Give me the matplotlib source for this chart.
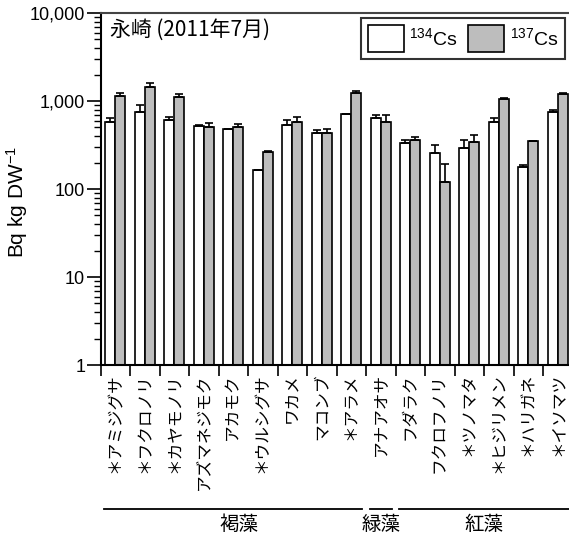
import matplotlib
matplotlib.use("Agg")
import matplotlib.pyplot as plt
import matplotlib.transforms as mtransforms
from matplotlib.ticker import FixedLocator, NullFormatter, LogLocator
import numpy as np

plt.rcParams['font.family'] = ['Liberation Sans', 'Noto Sans CJK JP', 'DejaVu Sans']
plt.rcParams['mathtext.fontset'] = 'custom'
plt.rcParams['mathtext.rm'] = 'Liberation Sans'
plt.rcParams['mathtext.it'] = 'Liberation Sans:italic'
plt.rcParams['mathtext.bf'] = 'Liberation Sans:bold'

# ---- data ----
species = ["＊アミジグサ", "＊フクロノリ", "＊カヤモノリ", "アズマネジモク", "アカモク",
           "＊ウルシグサ", "ワカメ", "マコンブ", "＊アラメ", "アナアオサ", "フダラク",
           "フクロフノリ", "＊ツノマタ", "＊ヒジリメン", "＊ハリガネ", "＊イソマツ"]
cs134 = [582, 743, 608, 520, 476, 163, 529, 430, 706, 635, 331, 259, 295, 577, 176, 750]
cs134_err = [53, 150, 55, 9, 9, 3, 79, 38, 11, 52, 29, 60, 62, 58, 13, 34]
cs137 = [1140, 1430, 1101, 511, 511, 263, 573, 430, 1243, 577, 360, 120, 345, 1054, 348, 1192]
cs137_err = [103, 185, 91, 46, 41, 5, 85, 55, 57, 110, 33, 72, 62, 18, 6, 30]
groups = ["褐藻", "緑藻", "紅藻"]
group_ranges = [(0, 8), (9, 9), (10, 15)]
yticks = [1, 10, 100, 1000, 10000]
ytick_labels = ["1", "10", "100", "1,000", "10,000"]
title = "永崎 (2011年7月)"
legend_labels = [r"$^{134}$Cs", r"$^{137}$Cs"]
ylabel = r"Bq kg DW$^{-1}$"

W, H = 569, 537
fig = plt.figure(figsize=(W / 100, H / 100), dpi=100)
left, right, top, bottom = 100.5, 572.5, 13, 365
ax = fig.add_axes([left / W, 1 - bottom / H, (right - left) / W, (bottom - top) / H])

x = np.arange(len(species))
bw = 0.34
grey = '#bdbdbd'
ax.bar(x - bw / 2, cs134, width=bw, color='white', edgecolor='black', linewidth=1.2,
       label=legend_labels[0], zorder=2)
ax.bar(x + bw / 2, cs137, width=bw, color=grey, edgecolor='black', linewidth=1.2,
       label=legend_labels[1], zorder=2)
ax.errorbar(x - bw / 2, cs134, yerr=[np.zeros(len(x)), cs134_err], fmt='none',
            ecolor='black', elinewidth=1.2, capsize=3, capthick=1.2, zorder=3)
ax.errorbar(x + bw / 2, cs137, yerr=[np.zeros(len(x)), cs137_err], fmt='none',
            ecolor='black', elinewidth=1.2, capsize=3, capthick=1.2, zorder=3)

ax.set_yscale('log')
ax.set_ylim(1, 10000)
ax.set_xlim(-0.5, len(species) - 0.5)
ax.yaxis.set_major_locator(FixedLocator(yticks))
ax.set_yticklabels(ytick_labels, fontsize=13)
ax.yaxis.set_minor_locator(LogLocator(base=10, subs=np.arange(2, 10)))
ax.yaxis.set_minor_formatter(NullFormatter())
ax.tick_params(axis='y', which='major', direction='out', length=10, width=1.2, pad=1)
ax.tick_params(axis='y', which='minor', direction='out', length=5, width=1.0)

ax.set_xticks(x)
ax.set_xticklabels(species, rotation=90, fontsize=12,
                   family=['Noto Sans CJK JP', 'DejaVu Sans'], va='top', ha='center')
ax.tick_params(axis='x', which='major', length=0, pad=6)
ax.xaxis.set_minor_locator(FixedLocator(np.arange(len(species) + 1) - 0.5))
ax.tick_params(axis='x', which='minor', direction='out', length=8, width=1.2)

for side in ['left', 'bottom']:
    ax.spines[side].set_linewidth(1.5)
ax.spines['top'].set_linewidth(1.5)
ax.spines['top'].set_color('#444444')
ax.spines['right'].set_visible(False)

ax.set_ylabel(ylabel, fontsize=15)
ax.yaxis.set_label_coords((30 - left) / (right - left), (bottom - 202) / (bottom - top))

ax.text((110 - left) / (right - left), (bottom - 30) / (bottom - top), title,
        transform=ax.transAxes, fontsize=15, va='center', ha='left',
        family=['Noto Sans CJK JP', 'DejaVu Sans'])

leg = ax.legend(loc='upper right', bbox_to_anchor=(565 / W, 1 - 18 / H),
                bbox_transform=fig.transFigure, ncol=2, fontsize=14,
                frameon=True, fancybox=False, edgecolor='black', borderaxespad=0,
                handlelength=1.85, handleheight=1.8, handletextpad=0.3,
                columnspacing=0.5, borderpad=0.35)
leg.get_frame().set_linewidth(1.5)

# group lines and labels below the axis
trans = mtransforms.blended_transform_factory(ax.transData, ax.transAxes)
yline = (bottom - 509) / (bottom - top)
ytext = (bottom - 524) / (bottom - top)
inset = 0.13
for g, (a, b) in zip(groups, group_ranges):
    ax.plot([a - 0.5 + inset, b + 0.5 - inset], [yline, yline], color='black', lw=1.3,
            transform=trans, clip_on=False)
    ax.text((a + b) / 2 + (0.2 if a == 0 else 0), ytext, g, transform=trans, ha='center',
            va='center', fontsize=14, family=['Noto Sans CJK JP', 'DejaVu Sans'])

fig.savefig('out.png', dpi=100)
